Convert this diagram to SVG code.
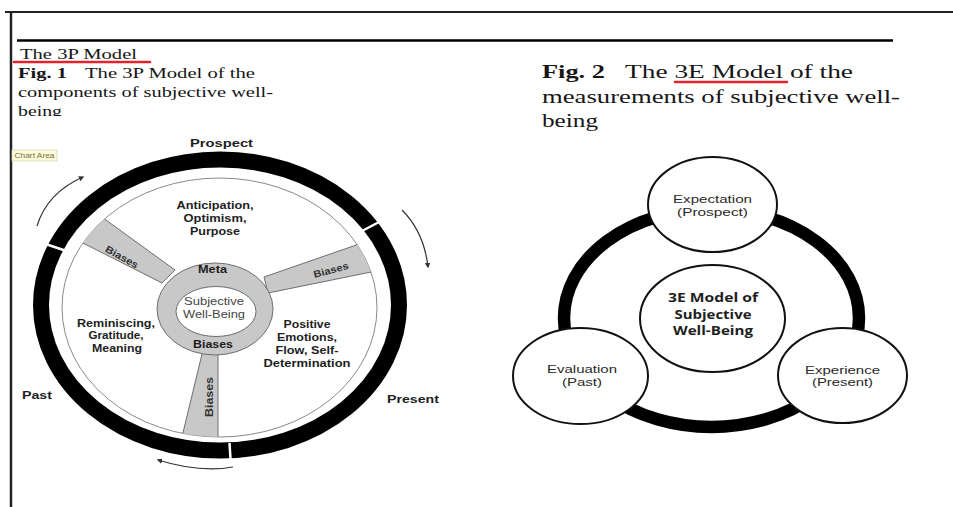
<svg xmlns="http://www.w3.org/2000/svg" width="953" height="507" viewBox="0 0 953 507">
<defs>
<style>
.hdr{font-family:"Liberation Serif","Times New Roman",serif;fill:#161616}
.b{font-weight:bold}
.w{font-family:"Liberation Sans",Arial,sans-serif;font-weight:bold;font-size:11.5px;fill:#1e1e1e;text-anchor:middle}
.wr{font-family:"Liberation Sans",Arial,sans-serif;font-size:11px;fill:#444;text-anchor:middle}
.sl{font-family:"Liberation Sans",Arial,sans-serif;font-weight:bold;font-size:10px;fill:#333;text-anchor:middle}
.lbl{font-family:"Liberation Sans",Arial,sans-serif;font-weight:bold;font-size:11px;fill:#1e1e1e;text-anchor:middle}
.e{font-family:"Liberation Sans",Arial,sans-serif;font-size:11.5px;fill:#2a2a2a;text-anchor:middle}
.c{font-family:"Open Sans",Lato,sans-serif;font-weight:bold;font-size:13px;fill:#1e1e1e;text-anchor:middle}
.spoke{fill:#c8c8c8;stroke:#6e6e6e;stroke-width:1}
.node{fill:#fff;stroke:#111;stroke-width:2}
.arr{fill:none;stroke:#333;stroke-width:1.2}
.gap{stroke:#fff;stroke-width:2.5}
.red{stroke:#e3232b;stroke-width:2.5;stroke-linecap:round}
</style>
<marker id="ah" viewBox="0 0 8 8" refX="6" refY="4" markerWidth="5.5" markerHeight="5.5" orient="auto" markerUnits="userSpaceOnUse">
<path d="M0,0 L8,4 L0,8 z" fill="#333"/>
</marker>
<clipPath id="clipBeing"><rect x="0" y="0" width="300" height="116"/></clipPath>
<clipPath id="clipWheel"><ellipse cx="219.5" cy="307.5" rx="157.5" ry="129.5"/></clipPath>
</defs>

<rect x="0" y="0" width="953" height="507" fill="#fff"/>

<g id="frame">
<line x1="5" y1="12" x2="953" y2="12" stroke="#222" stroke-width="2"/>
<line x1="11" y1="11" x2="11" y2="507" stroke="#222" stroke-width="2.5"/>
<line x1="17" y1="40.5" x2="893" y2="40.5" stroke="#000" stroke-width="2.5"/>
</g>

<g id="header-left">
<text class="hdr" x="20" y="59" font-size="15" textLength="117" lengthAdjust="spacingAndGlyphs">The 3P Model</text>
<line class="red" x1="14" y1="62" x2="150" y2="62"/>
<text class="hdr b" x="18" y="78" font-size="14.5" textLength="49" lengthAdjust="spacingAndGlyphs">Fig. 1</text>
<text class="hdr" x="85" y="78" font-size="14.5" textLength="170" lengthAdjust="spacingAndGlyphs">The 3P Model of the</text>
<text class="hdr" x="18" y="97" font-size="14.5" textLength="255" lengthAdjust="spacingAndGlyphs">components of subjective well-</text>
<text class="hdr" x="18" y="115.5" font-size="14.5" textLength="44" lengthAdjust="spacingAndGlyphs" clip-path="url(#clipBeing)">being</text>
</g>

<g id="header-right">
<text class="hdr b" x="542" y="78" font-size="18.5" textLength="63" lengthAdjust="spacingAndGlyphs">Fig. 2</text>
<text class="hdr" x="625" y="78" font-size="18.5" textLength="228" lengthAdjust="spacingAndGlyphs">The 3E Model of the</text>
<line class="red" x1="675" y1="82" x2="787" y2="82"/>
<text class="hdr" x="542" y="103" font-size="18.5" textLength="358" lengthAdjust="spacingAndGlyphs">measurements of subjective well-</text>
<text class="hdr" x="542" y="127" font-size="18.5" textLength="56" lengthAdjust="spacingAndGlyphs">being</text>
</g>

<g id="chart-area-tip">
<rect x="12" y="150" width="45" height="11" fill="#fdfcd6" stroke="#d6d6c0" stroke-width="0.8"/>
<text x="34.5" y="158" font-family="Liberation Sans,Arial,sans-serif" font-size="6.5" fill="#6e6e48" text-anchor="middle" textLength="40" lengthAdjust="spacingAndGlyphs">Chart Area</text>
</g>

<g id="wheel-3P">
<g id="outer-ring">
<ellipse cx="220" cy="305" rx="179" ry="145.5" fill="none" stroke="#000" stroke-width="16"/>
<line class="gap" x1="362" y1="231" x2="381" y2="221"/>
<line class="gap" x1="65" y1="250.5" x2="44" y2="243.5"/>
<line class="gap" x1="229.5" y1="443" x2="230.6" y2="461"/>
</g>
<ellipse id="wheel-face" cx="219.5" cy="307.5" rx="157.5" ry="129.5" fill="#fff" stroke="#8a8a8a" stroke-width="1"/>
<g id="spokes" clip-path="url(#clipWheel)">
<polygon class="spoke" points="99,215 77,240 162,283 175,270"/>
<polygon class="spoke" points="362,243 376,271 268,293 264,277"/>
<polygon class="spoke" points="180,445 218,445 218,350 203,350"/>
</g>
<g id="center">
<ellipse cx="215" cy="309" rx="58" ry="46" fill="#c8c8c8" stroke="#6e6e6e" stroke-width="1"/>
<ellipse cx="216" cy="311.5" rx="40" ry="25" fill="#fff" stroke="#6e6e6e" stroke-width="1"/>
<text class="w" x="212.5" y="273" font-size="11" textLength="29" lengthAdjust="spacingAndGlyphs">Meta</text>
<text class="wr" x="214" y="305" textLength="60" lengthAdjust="spacingAndGlyphs">Subjective</text>
<text class="wr" x="214" y="318" textLength="62" lengthAdjust="spacingAndGlyphs">Well-Being</text>
<text class="w" x="213" y="348" font-size="11" textLength="40" lengthAdjust="spacingAndGlyphs">Biases</text>
</g>
<g id="spoke-labels">
<text class="sl" transform="translate(122,257) rotate(29)" x="0" y="3.5" textLength="36" lengthAdjust="spacingAndGlyphs">Biases</text>
<text class="sl" transform="translate(331,270) rotate(-15)" x="0" y="3.5" textLength="36" lengthAdjust="spacingAndGlyphs">Biases</text>
<text class="sl" transform="translate(209,397) rotate(-90)" x="0" y="3.5" textLength="40" lengthAdjust="spacingAndGlyphs">Biases</text>
</g>
<g id="sector-prospect">
<text class="w" x="215" y="209" textLength="77" lengthAdjust="spacingAndGlyphs">Anticipation,</text>
<text class="w" x="215" y="222" textLength="63" lengthAdjust="spacingAndGlyphs">Optimism,</text>
<text class="w" x="215" y="235" textLength="50" lengthAdjust="spacingAndGlyphs">Purpose</text>
</g>
<g id="sector-past">
<text class="w" x="116" y="326.5" textLength="78" lengthAdjust="spacingAndGlyphs">Reminiscing,</text>
<text class="w" x="116" y="339" textLength="55" lengthAdjust="spacingAndGlyphs">Gratitude,</text>
<text class="w" x="117" y="352" textLength="50" lengthAdjust="spacingAndGlyphs">Meaning</text>
</g>
<g id="sector-present">
<text class="w" x="307" y="327.5" textLength="47" lengthAdjust="spacingAndGlyphs">Positive</text>
<text class="w" x="307" y="340.5" textLength="60" lengthAdjust="spacingAndGlyphs">Emotions,</text>
<text class="w" x="307" y="353.5" textLength="63" lengthAdjust="spacingAndGlyphs">Flow, Self-</text>
<text class="w" x="307" y="366.5" textLength="87" lengthAdjust="spacingAndGlyphs">Determination</text>
</g>
<g id="time-labels">
<text class="lbl" x="221.5" y="147" textLength="63" lengthAdjust="spacingAndGlyphs">Prospect</text>
<text class="lbl" x="37" y="398.5" textLength="30" lengthAdjust="spacingAndGlyphs">Past</text>
<text class="lbl" x="413" y="403" textLength="52" lengthAdjust="spacingAndGlyphs">Present</text>
</g>
</g>

<g id="connectors">
<path class="arr" d="M37,226 Q47,193 83,177" marker-end="url(#ah)"/>
<path class="arr" d="M402,210 Q424,232 428,267" marker-end="url(#ah)"/>
<path class="arr" d="M233,467 Q200,473 158,460" marker-end="url(#ah)"/>
<ellipse cx="711.5" cy="318" rx="147.5" ry="109" fill="none" stroke="#000" stroke-width="12.5"/>
</g>

<g id="node-center">
<ellipse class="node" cx="712.5" cy="318.5" rx="72.5" ry="53.5"/>
<text class="c" x="713" y="302" textLength="90" lengthAdjust="spacingAndGlyphs">3E Model of</text>
<text class="c" x="713" y="318.5" textLength="77" lengthAdjust="spacingAndGlyphs">Subjective</text>
<text class="c" x="713" y="335" textLength="80" lengthAdjust="spacingAndGlyphs">Well-Being</text>
</g>
<g id="node-expectation">
<ellipse class="node" cx="712.5" cy="204.5" rx="64.5" ry="47.5"/>
<text class="e" x="712.5" y="203" textLength="79" lengthAdjust="spacingAndGlyphs">Expectation</text>
<text class="e" x="712.5" y="215.5" textLength="71" lengthAdjust="spacingAndGlyphs">(Prospect)</text>
</g>
<g id="node-evaluation">
<ellipse class="node" cx="580.5" cy="376" rx="67.5" ry="48"/>
<text class="e" x="582" y="373" textLength="70" lengthAdjust="spacingAndGlyphs">Evaluation</text>
<text class="e" x="582" y="386" textLength="40" lengthAdjust="spacingAndGlyphs">(Past)</text>
</g>
<g id="node-experience">
<ellipse class="node" cx="842.5" cy="375.5" rx="64.5" ry="47.5"/>
<text class="e" x="842.5" y="373.5" textLength="75" lengthAdjust="spacingAndGlyphs">Experience</text>
<text class="e" x="842.5" y="386" textLength="61" lengthAdjust="spacingAndGlyphs">(Present)</text>
</g>
</svg>
